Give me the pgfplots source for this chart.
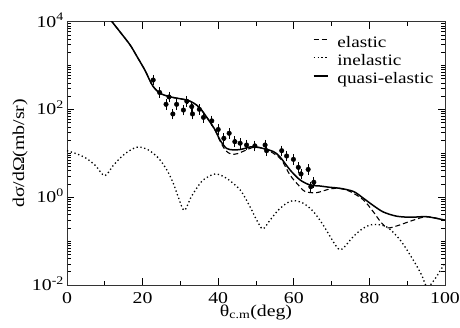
\documentclass[border=0pt]{standalone}
\usepackage{fontspec}
\setmainfont{Liberation Serif}[FakeStretch=1.2]
\usepackage{pgfplots}
\usepackage{pgfplotstable}
\pgfplotsset{compat=1.18}

\pgfplotstableread{
x y
10 16000
11.9 10000
14 5900
16.7 2950
18.5 1620
20.6 790
21.8 480
22.8 333
24.6 234
27.2 195
29.5 178
31.7 164
33.5 140
35.2 107
37.5 57
39.2 34
40.5 20
42.2 13
44 12
46 12.3
48.5 14
50.5 13.8
52.5 12.5
54.6 11
56.3 8.4
59 4.2
61.6 2.5
64.3 1.9
67 1.8
69.6 1.68
72.2 1.6
75.8 1.35
78.4 0.95
81 0.65
83.7 0.46
87.2 0.37
91 0.35
95.2 0.36
100 0.3
}\quasi

\pgfplotstableread{
x y
10 16000
11.9 10000
14 5900
16.7 2950
18.5 1620
20.6 790
21.8 480
22.8 333
24.6 234
27.2 195
29.5 178
31.7 164
33.5 140
35.2 107
37.5 57
39.2 33
40.5 19
42 11.5
43.5 9.6
45 9.8
47 11.5
49 13.5
51 13.5
53 12
55 9.5
56.8 7
59 3.2
61.2 1.9
63 1.35
66 1.27
69.6 1.55
72.2 1.58
74.9 1.35
78.4 0.87
81 0.47
83.2 0.26
85 0.2
88.1 0.235
91.6 0.30
95.2 0.36
100 0.3
}\elastic

\pgfplotstableread{
x y
0 11.5
2.5 9.8
5 7.8
7.5 5.3
10 3.1
12.3 5.4
14.9 9.1
17.1 12.3
18.9 14
21.5 12
24.2 7.8
26.4 4.2
28.1 2.1
29.4 1.03
31 0.5
32.8 1.0
34.3 1.6
36.1 2.5
39.2 3.4
42.2 2.7
45.8 1.47
48.4 0.61
50.2 0.3
51.8 0.19
53.7 0.3
55.9 0.51
58.1 0.73
59.9 0.84
62.5 0.73
65.2 0.47
67.8 0.23
71.3 0.075
72.8 0.066
75.7 0.126
78.4 0.197
81 0.24
84.6 0.21
88.1 0.107
91.6 0.037
93.8 0.017
95.3 0.009
97.4 0.014
100 0.032
}\inelastic

\pgfplotstableread{
x y e
22.8 468 0.12
24.5 244 0.12
27.0 193 0.12
26.2 131 0.12
29.0 131 0.12
28.0 79 0.12
30.8 97 0.12
31.7 154 0.12
33.0 116 0.12
33.2 79 0.12
35.0 101 0.12
36.1 66 0.12
38.3 55 0.12
40.0 35 0.12
42.9 28.7 0.12
41.5 22 0.12
44.4 18.5 0.12
45.8 17 0.12
47.5 15.5 0.12
49.7 14.8 0.12
52.4 15.5 0.12
52.8 11.5 0.12
56.8 11.5 0.12
58.1 8.7 0.12
59.9 7.3 0.12
61.2 4.8 0.12
63.8 4.3 0.12
61.9 3.4 0.12
65.3 2.2 0.12
64.5 1.74 0.12
}\expdata

\begin{document}
\fontsize{16.5}{20}\selectfont
\begin{tikzpicture}
\begin{axis}[
  scale only axis, width=378pt, height=263.3pt,
  xmin=0, xmax=100, ymode=log, ymin=1e-2, ymax=1e4,
  xtick={0,20,40,60,80,100}, xticklabels={0,20,40,60,80,100},
  minor xtick={10,30,50,70,90},
  ytick={1e-2,1,1e2,1e4},
  yticklabels={10\textsuperscript{-2},10\textsuperscript{0},10\textsuperscript{2},10\textsuperscript{4}},
  minor ytick={2e-2,3e-2,4e-2,5e-2,6e-2,7e-2,8e-2,9e-2,0.1,0.2,0.3,0.4,0.5,0.6,0.7,0.8,0.9,
    2,3,4,5,6,7,8,9,10,20,30,40,50,60,70,80,90,200,300,400,500,600,700,800,900,1000,
    2000,3000,4000,5000,6000,7000,8000,9000},
  tick align=inside, xtick pos=both, ytick pos=both,
  major tick length=7pt, minor tick length=4pt,
  every tick/.style={black, line width=0.7pt},
  axis line style={line width=0.8pt, black!80},
  xticklabel style={anchor=base, yshift=-18.3pt},
  yticklabel style={anchor=base east, yshift=-5.4pt, inner xsep=3pt},
  xlabel={θ\textsubscript{c.m}(deg)},
  ylabel={dσ/dΩ(mb/sr)},
  every axis x label/.style={at={(axis description cs:0.5,-0.118)}, anchor=base},
  every axis y label/.style={at={(axis description cs:-0.124,0.5)}, anchor=center, rotate=90},
  legend style={draw=none, fill=none, at={(0.650,0.951)}, anchor=north west,
    font=\fontsize{16}{18}\selectfont, row sep=0pt, inner sep=0pt,
    nodes={inner sep=0pt, text height=12.5pt, text depth=5.5pt}},
  legend cell align=left,
  legend image code/.code={\draw[#1] (0pt,4pt) -- (14pt,4pt); \path (23pt,4pt);},
]
\addplot[black, line width=1.1pt, dash pattern=on 5pt off 3pt, smooth, tension=0.5] table[x=x,y=y] {\elastic};
\addlegendentry{elastic}
\addplot[black, line width=1.3pt, dash pattern=on 1.3pt off 2.6pt, smooth, tension=0.5] table[x=x,y=y] {\inelastic};
\addlegendentry{inelastic}
\addplot[black, line width=1.5pt, smooth, tension=0.5] table[x=x,y=y] {\quasi};
\addlegendentry{quasi-elastic}
\addplot[black, only marks, mark=*, mark size=2.3pt,
  error bars/.cd, y dir=both, y explicit relative,
  error mark options={black, line width=0.8pt, mark size=3pt}]
  table[x=x,y=y,y error=e] {\expdata};
\end{axis}
\pgfresetboundingbox
\useasboundingbox (-67pt,-42pt) rectangle (393pt,285pt);
\end{tikzpicture}
\end{document}
